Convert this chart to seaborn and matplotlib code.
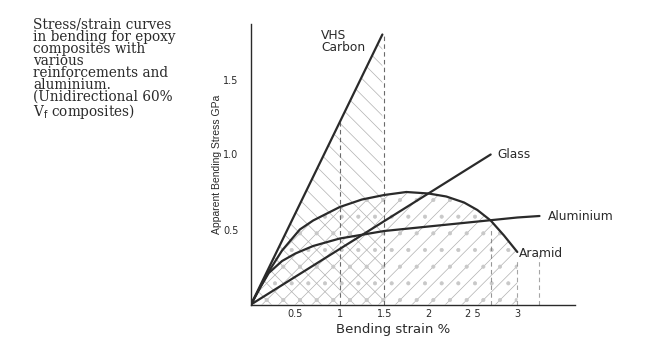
import matplotlib
matplotlib.use("Agg")
import matplotlib.pyplot as plt
import seaborn as sns
import pandas as pd
import numpy as np

# ---- data ----
carbon_strain = [0.0, 1.48]
carbon_stress = [0.0, 1.80]

glass_strain = [0.0, 2.70]
glass_stress = [0.0, 1.00]

aramid_strain = [0.0, 0.1, 0.2, 0.35, 0.55, 0.7, 1.0, 1.25, 1.5, 1.75, 2.0, 2.2, 2.4, 2.55, 2.7, 2.85, 3.0]
aramid_stress = [0.0, 0.11, 0.22, 0.36, 0.50, 0.56, 0.65, 0.70, 0.73, 0.75, 0.74, 0.72, 0.68, 0.63, 0.56, 0.46, 0.35]

alu_strain = [0.0, 0.1, 0.2, 0.35, 0.5, 0.7, 1.0, 1.5, 2.0, 2.5, 3.0, 3.25]
alu_stress = [0.0, 0.11, 0.21, 0.29, 0.34, 0.39, 0.44, 0.49, 0.52, 0.55, 0.58, 0.59]

drop_strain = [1.0, 1.5, 2.7, 3.0, 3.25]
drop_top = [1.22, 1.80, 0.50, 0.30, 0.33]

x_ticks = [0.5, 1.0, 1.5, 2.0, 2.5, 3.0]
x_ticklabels = ["0.5", "1", "1.5", "2", "2 5", "3"]
y_ticks = [0.5, 1.0, 1.5]
y_ticklabels = ["0.5", "1.0", "1.5"]

caption_lines = ["Stress/strain curves", "in bending for epoxy", "composites with",
                 "various", "reinforcements and", "aluminium.",
                 "(Unidirectional 60%", r"V$_{\rm f}$ composites)"]

# ---- style ----
sns.set_theme(style="white")
plt.rcParams["font.family"] = ["DejaVu Sans"]
plt.rcParams["hatch.linewidth"] = 0.5

ink = "#2a2a2a"
hatch_col = "#b0b0b0"
fig = plt.figure(figsize=(6.46, 3.53), dpi=100)
ax = fig.add_axes([251 / 646, 1 - 304.5 / 353, (575 - 251) / 646, (304.5 - 24) / 353])
ax.set_xlim(0, 3.65)
ax.set_ylim(0, 1.87)

# hatched regions
ax.fill_between(carbon_strain, 0, carbon_stress, facecolor="none", edgecolor=hatch_col,
                hatch="\\\\", linewidth=0)
ax.fill_between(aramid_strain, 0, aramid_stress, facecolor="none", edgecolor=hatch_col,
                hatch="//", linewidth=0)
ax.fill_between(aramid_strain, 0, aramid_stress, facecolor="none", edgecolor="#c8c8c8",
                hatch=".", linewidth=0)

# drop lines
for xs, yt, a in zip(drop_strain, drop_top, [1, 1, 0.7, 0.6, 0.6]):
    ax.vlines(xs, 0, yt, colors="#6a6a6a", linestyles=(0, (4, 3)), linewidth=0.8, alpha=a)

# curves
curves = pd.concat([
    pd.DataFrame({"strain": carbon_strain, "stress": carbon_stress, "mat": "carbon"}),
    pd.DataFrame({"strain": glass_strain, "stress": glass_stress, "mat": "glass"}),
    pd.DataFrame({"strain": aramid_strain, "stress": aramid_stress, "mat": "aramid"}),
    pd.DataFrame({"strain": alu_strain, "stress": alu_stress, "mat": "alu"}),
])
sns.lineplot(data=curves, x="strain", y="stress", units="mat", estimator=None, sort=False,
             color=ink, linewidth=1.6, ax=ax, legend=False)

# curve labels
ax.text(0.79, 1.67, "VHS\nCarbon", ha="left", va="bottom", linespacing=0.95, fontsize=8.8, color=ink)
ax.text(2.77, 1.0, "Glass", ha="left", va="center", fontsize=8.8, color=ink)
ax.text(3.34, 0.59, "Aluminium", ha="left", va="center", clip_on=False, fontsize=8.8, color=ink)
ax.text(3.02, 0.34, "Aramid", ha="left", va="center", fontsize=8.8, color=ink)

# axes styling
for s in ["top", "right"]:
    ax.spines[s].set_visible(False)
for s in ["left", "bottom"]:
    ax.spines[s].set_color(ink)
    ax.spines[s].set_linewidth(1.0)
ax.set_xticks(x_ticks)
ax.set_xticklabels(x_ticklabels)
ax.set_yticks(y_ticks)
ax.set_yticklabels(y_ticklabels)
ax.tick_params(axis="y", direction="in", length=8, width=0.9, color=ink, pad=9, labelsize=7, labelcolor=ink)
ax.tick_params(axis="x", direction="in", length=0, pad=3, labelsize=7, labelcolor=ink)
ax.set_xlabel("Bending strain %", fontsize=9.5, color=ink)
ax.xaxis.set_label_coords((393 - 251) / (575 - 251), -0.065)
ax.set_ylabel("Apparent Bending Stress GPa", fontsize=7.5, color=ink, labelpad=1,
              family=["Liberation Sans"])

fig.text(33 / 646, 1 - 18 / 353, "\n".join(caption_lines), ha="left", va="top",
         fontsize=9.8, family=["DejaVu Serif"], color=ink, linespacing=0.82)

fig.savefig("out.png", dpi=100, facecolor="white")
